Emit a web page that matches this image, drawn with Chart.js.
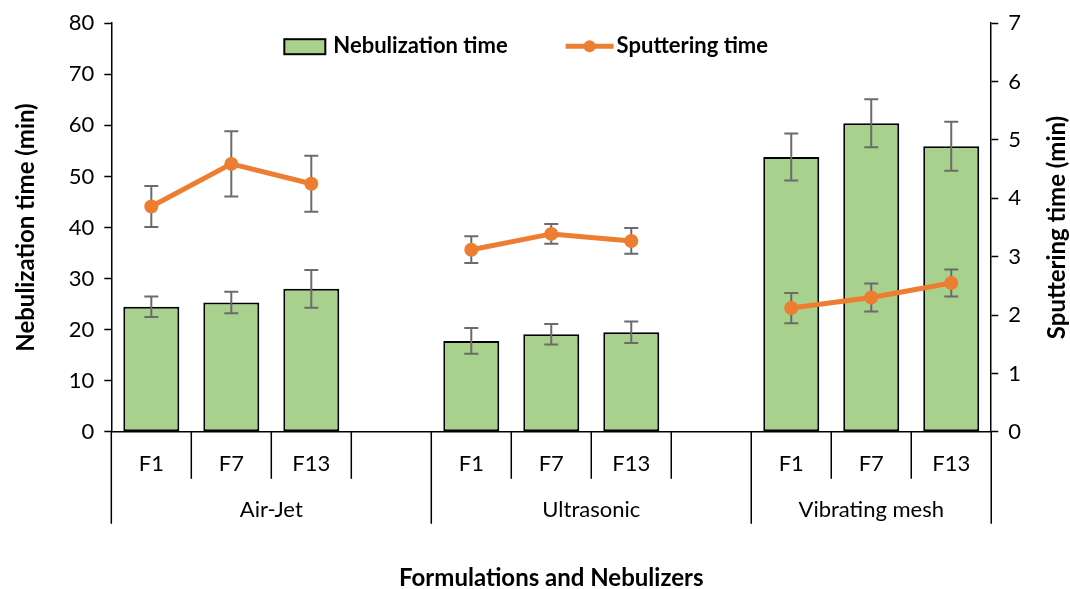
<!DOCTYPE html>
<html>
<head>
<meta charset="utf-8">
<script src="https://cdn.jsdelivr.net/npm/chart.js@4.4.1/dist/chart.umd.min.js"></script>
<style>
  html, body { margin: 0; padding: 0; background: #fff; }
  #wrap { width: 1070px; height: 589px; }
</style>
</head>
<body>
<div id="wrap"><canvas id="nebChart"></canvas></div>
<script>
const formulations = ["F1", "F7", "F13", "", "F1", "F7", "F13", "", "F1", "F7", "F13"];
const nebulizers = ["Air-Jet", "Ultrasonic", "Vibrating mesh"];
const groupStarts = [0, 4, 8, 11];

const nebulizationTime = [24.5, 25.3, 28.0, null, 17.8, 19.1, 19.5, null, 53.8, 60.4, 55.9];
const nebulizationErr = [2.0, 2.1, 3.7, null, 2.5, 2.0, 2.1, null, 4.6, 4.7, 4.8];
const sputteringTime = [3.86, 4.59, 4.25, null, 3.12, 3.39, 3.27, null, 2.12, 2.30, 2.55];
const sputteringErr = [0.35, 0.56, 0.48, null, 0.23, 0.17, 0.22, null, 0.26, 0.24, 0.23];

const barGreen = "#a9d18e";
const lineOrange = "#ed7d31";
const errGray = "#6b6b6b";
const fontFamily = "Lato, 'Open Sans', sans-serif";

function drawErrors(chart, values, errors, axisId) {
  const ctx = chart.ctx;
  const xScale = chart.scales.x;
  const yScale = chart.scales[axisId];
  ctx.save();
  ctx.strokeStyle = errGray;
  ctx.lineWidth = 2;
  values.forEach((v, i) => {
    if (v === null) return;
    const x = xScale.getPixelForValue(i);
    const yTop = yScale.getPixelForValue(v + errors[i]);
    const yBot = yScale.getPixelForValue(v - errors[i]);
    ctx.beginPath();
    ctx.moveTo(x, yTop); ctx.lineTo(x, yBot);
    ctx.moveTo(x - 7, yTop); ctx.lineTo(x + 7, yTop);
    ctx.moveTo(x - 7, yBot); ctx.lineTo(x + 7, yBot);
    ctx.stroke();
  });
  ctx.restore();
}

const errorBarPlugin = {
  id: "errorBars",
  afterDatasetDraw(chart, args) {
    if (args.index === 0) drawErrors(chart, nebulizationTime, nebulizationErr, "y");
  },
  beforeDatasetDraw(chart, args) {
    if (args.index === 1) drawErrors(chart, sputteringTime, sputteringErr, "y1");
  }
};

// second level of the category axis, divider lines, right axis title
const groupAxisPlugin = {
  id: "groupAxis",
  afterDraw(chart) {
    const ctx = chart.ctx;
    const xScale = chart.scales.x;
    const area = chart.chartArea;
    const bottom = area.bottom;
    const half = (xScale.getPixelForValue(1) - xScale.getPixelForValue(0)) / 2;
    const edge = i => xScale.getPixelForValue(0) - half + i * 2 * half;
    ctx.save();
    ctx.strokeStyle = "#000";
    ctx.lineWidth = 1.5;
    for (let i = 0; i <= formulations.length; i++) {
      const long = groupStarts.includes(i);
      ctx.beginPath();
      ctx.moveTo(edge(i), bottom);
      ctx.lineTo(edge(i), bottom + (long ? 92 : 47));
      ctx.stroke();
    }
    ctx.fillStyle = "#000";
    ctx.font = "22px " + fontFamily;
    ctx.textAlign = "center";
    ctx.textBaseline = "middle";
    nebulizers.forEach((name, g) => {
      const cx = (edge(groupStarts[g]) + edge(groupStarts[g + 1])) / 2;
      ctx.fillText(name, cx, bottom + 78);
    });

    ctx.font = "bold 24px " + fontFamily;
    ctx.translate(chart.width - 13, (area.top + area.bottom) / 2);
    ctx.rotate(-Math.PI / 2);
    ctx.fillText("Sputtering time (min)", 0, 0);
    ctx.restore();
  }
};

const legendPlugin = {
  id: "innerLegend",
  afterDraw(chart) {
    const ctx = chart.ctx;
    const area = chart.chartArea;
    let x = area.left + 173;
    const y = area.top + 23;
    ctx.save();
    ctx.font = "bold 22px " + fontFamily;
    ctx.textBaseline = "middle";
    ctx.fillStyle = barGreen;
    ctx.fillRect(x, y - 7, 41, 15);
    ctx.strokeStyle = "#000";
    ctx.lineWidth = 2;
    ctx.strokeRect(x, y - 7, 41, 15);
    x += 49;
    ctx.fillStyle = "#000";
    ctx.fillText(chart.data.datasets[0].label, x, y);
    x += ctx.measureText(chart.data.datasets[0].label).width + 58;
    ctx.strokeStyle = lineOrange;
    ctx.lineWidth = 5;
    ctx.beginPath();
    ctx.moveTo(x, y); ctx.lineTo(x + 48, y);
    ctx.stroke();
    ctx.fillStyle = lineOrange;
    ctx.beginPath();
    ctx.arc(x + 24, y, 6, 0, Math.PI * 2);
    ctx.fill();
    x += 51;
    ctx.fillStyle = "#000";
    ctx.fillText(chart.data.datasets[1].label, x, y);
    ctx.restore();
  }
};

const nebConfig = {
  data: {
    labels: formulations,
    datasets: [
      {
        type: "bar",
        label: "Nebulization time",
        data: nebulizationTime,
        backgroundColor: barGreen,
        borderColor: "#000",
        borderWidth: 2,
        borderSkipped: false,
        categoryPercentage: 1,
        barPercentage: 0.7,
        yAxisID: "y",
        order: 1
      },
      {
        type: "line",
        label: "Sputtering time",
        data: sputteringTime,
        borderColor: lineOrange,
        backgroundColor: lineOrange,
        borderWidth: 5,
        pointRadius: 7,
        pointHoverRadius: 7,
        pointBorderWidth: 0,
        spanGaps: false,
        yAxisID: "y1",
        order: 0
      }
    ]
  },
  options: {
    responsive: true,
    maintainAspectRatio: false,
    animation: false,
    layout: { padding: { top: 4, left: 12, right: 39, bottom: -4 } },
    plugins: {
      legend: { display: false },
      tooltip: { enabled: false }
    },
    scales: {
      x: {
        type: "category",
        offset: true,
        grid: { display: false, drawTicks: false },
        border: { display: true, color: "#000", width: 1.5 },
        ticks: {
          color: "#000",
          font: { family: fontFamily, size: 22 },
          padding: 19,
          maxRotation: 0,
          autoSkip: false
        },
        title: {
          display: true,
          text: "Formulations and Nebulizers",
          color: "#000",
          font: { family: fontFamily, size: 24, weight: "bold" },
          padding: { top: 68, bottom: 0 }
        }
      },
      y: {
        position: "left",
        min: 0,
        max: 80,
        ticks: {
          stepSize: 10,
          color: "#000",
          font: { family: fontFamily, size: 22 },
          padding: 10
        },
        grid: { drawOnChartArea: false, tickLength: 7, tickColor: "#000", tickWidth: 1.5 },
        border: { color: "#000", width: 1.5 },
        title: {
          display: true,
          text: "Nebulization time (min)",
          color: "#000",
          font: { family: fontFamily, size: 24, weight: "bold" },
          padding: { top: 0, bottom: 18 }
        }
      },
      y1: {
        position: "right",
        min: 0,
        max: 7,
        ticks: {
          stepSize: 1,
          color: "#000",
          font: { family: fontFamily, size: 22 },
          padding: 10
        },
        grid: { drawOnChartArea: false, tickLength: 7, tickColor: "#000", tickWidth: 1.5 },
        border: { color: "#000", width: 1.5 }
      }
    }
  },
  plugins: [errorBarPlugin, groupAxisPlugin, legendPlugin]
};

const nebChart = new Chart(document.getElementById("nebChart"), nebConfig);
</script>
</body>
</html>
